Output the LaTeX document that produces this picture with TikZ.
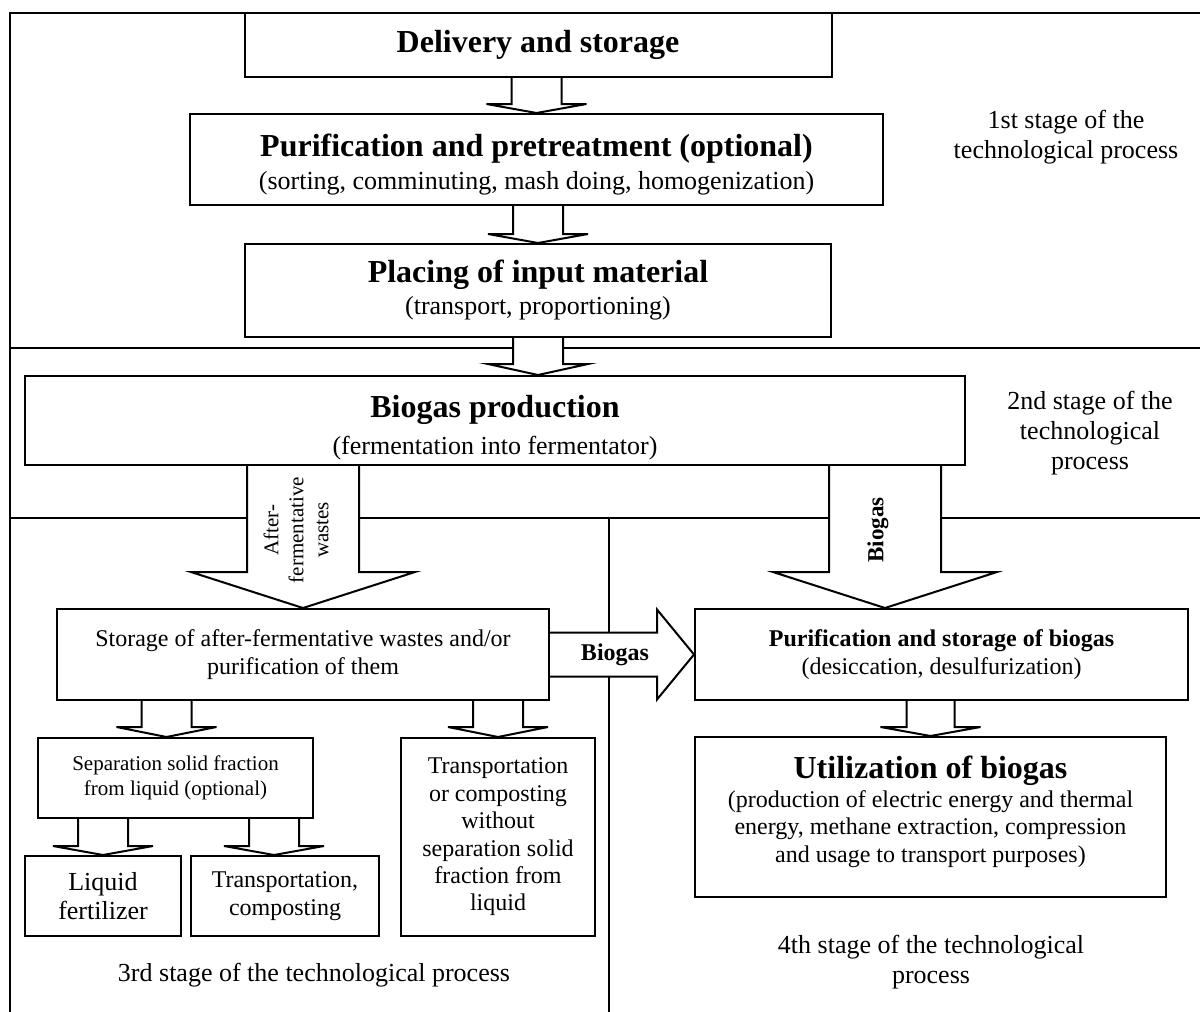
\documentclass[tikz,border=0pt]{standalone}
\usepackage{fontspec}
\setmainfont{Liberation Serif}
\usetikzlibrary{calc}

\newcommand{\hdfont}{\fontsize{16}{19}\selectfont\bfseries}
\newcommand{\txfont}{\fontsize{13}{15}\selectfont}
\newcommand{\smfont}{\fontsize{12}{13.7}\selectfont}
\newcommand{\tnfont}{\fontsize{10.5}{12.5}\selectfont}
\newcommand{\gasfont}{\fontsize{12}{14}\selectfont\bfseries}

\tikzset{
	box/.style={draw, line width=1pt, align=center, inner sep=0pt},
	fatarrow/.style={fill=white, draw, line width=1pt, line join=miter},
	frame/.style={line width=0.8pt},
}

\newcommand{\fatdown}[5]{%
	\filldraw[fatarrow] let \p1=(#1), \p2=(#2) in
		(\x2-#3*0.5pt,\y1) -- (\x2-#3*0.5pt,\y2+#5*0.5pt) -- (\x2-#4*0.5pt,\y2+#5*0.5pt) -- (\x2,\y2)
		-- (\x2+#4*0.5pt,\y2+#5*0.5pt) -- (\x2+#3*0.5pt,\y2+#5*0.5pt) -- (\x2+#3*0.5pt,\y1);}
\newcommand{\fatright}[5]{%
	\filldraw[fatarrow] let \p1=(#1), \p2=(#2) in
		(\x1,\y2+#3*0.5pt) -- (\x2-#5*0.5pt,\y2+#3*0.5pt) -- (\x2-#5*0.5pt,\y2+#4*0.5pt) -- (\x2,\y2)
		-- (\x2-#5*0.5pt,\y2-#4*0.5pt) -- (\x2-#5*0.5pt,\y2-#3*0.5pt) -- (\x1,\y2-#3*0.5pt);}

\begin{document}
\begin{tikzpicture}[x=0.5pt,y=-0.5pt]
\useasboundingbox (0,0) rectangle (1200,1012);
	\draw[frame] (1200,13) -- (10,13) -- (10,1012);
	\draw[frame] (10,348) -- (1200,348);
	\draw[frame] (10,518) -- (1200,518);
	\draw[frame] (609,518) -- (609,1012);

	\node[box, minimum width=293.5pt, minimum height=32pt, font=\hdfont] (deliv) at (538,45) {Delivery and storage};
	\node[box, minimum width=346.5pt, minimum height=45.5pt, font=\txfont] (purif) at (536.5,159.5)
		{{\hdfont\rule{0pt}{16.5pt}Purification and pretreatment (optional)}\\[1.5pt](sorting, comminuting, mash doing, homogenization)};
	\node[box, minimum width=293pt, minimum height=46.5pt, font=\txfont] (placing) at (538,290.5)
		{{\hdfont Placing of input material}\\[1pt](transport, proportioning)};
	\node[box, minimum width=470pt, minimum height=44.5pt, font=\txfont] (biogas) at (495,420.5)
		{{\hdfont\rule{0pt}{18pt}Biogas production}\\[3.5pt](fermentation into fermentator)};
	\node[box, minimum width=246pt, minimum height=45.5pt, font=\smfont] (storage) at (303,654.5)
		{Storage of after-fermentative wastes and/or\\purification of them};
	\node[box, minimum width=246.5pt, minimum height=45.5pt, font=\smfont] (purbio) at (941.5,654.5)
		{{\bfseries Purification and storage of biogas}\\(desiccation, desulfurization)};
	\node[box, minimum width=137.5pt, minimum height=40pt, font=\tnfont] (sep) at (175.5,778)
		{Separation solid fraction\\from liquid (optional)};
	\node[box, minimum width=97pt, minimum height=99pt, font=\smfont] (trwo) at (498,837)
		{Transportation\\or composting\\without\\separation solid\\fraction from\\liquid};
	\node[box, minimum width=78pt, minimum height=40pt, font=\fontsize{13}{14.5}\selectfont] (liquid) at (103,896)
		{Liquid\\fertilizer};
	\node[box, minimum width=94pt, minimum height=40pt, font=\smfont] (trcomp) at (285,896)
		{Transportation,\\composting};
	\node[box, minimum width=235.5pt, minimum height=80pt, font=\smfont] (util) at (930.5,817)
		{{\hdfont Utilization of biogas}\\[1pt](production of electric energy and thermal\\energy, methane extraction, compression\\and usage to transport purposes)\rule[-8pt]{0pt}{8pt}};

	\node[align=center, font=\txfont] (st1) at (1066,137) {1st stage of the\\technological process};
	\node[align=center, font=\txfont] (st2) at (1090,433) {2nd stage of the\\technological\\process};
	\node[font=\txfont] (st3) at (314,975) {3rd stage of the technological process};
	\node[align=center, font=\txfont] (st4) at (931,962) {4th stage of the technological\\process};

	\coordinate (gasx) at (885,0);
	\fatdown{deliv.south}{purif.north}{25}{50}{9}
	\fatdown{purif.south}{placing.north}{25}{50}{9}
	\fatdown{placing.south}{placing.south |- biogas.north}{25}{50}{11}
	\fatdown{biogas.south}{storage.north}{56}{112}{36}
	\fatdown{biogas.south}{purbio.north -| gasx}{56}{112}{36}
	\fatright{storage.east}{purbio.west}{22}{45}{37}
	\fatdown{purbio.south}{util.north}{24}{50}{9}
	\fatdown{storage.south}{[xshift=-4.5pt]sep.north}{25}{50}{10}
	\fatdown{storage.south}{trwo.north}{25}{50}{10}
	\fatdown{sep.south}{liquid.north}{25}{50}{9}
	\fatdown{sep.south}{[xshift=-5.5pt]trcomp.north}{25}{50}{9}

	\node[rotate=90, align=center, font=\tnfont] (wastelbl) at (296,530) {After-\\fermentative\\wastes};
	\node[rotate=90, font=\fontsize{11.5}{13}\selectfont\bfseries] (gaslbl) at (878,530) {Biogas};
	\node[font=\gasfont] (gaslbl2) at (615,655) {Biogas};
\end{tikzpicture}
\end{document}
